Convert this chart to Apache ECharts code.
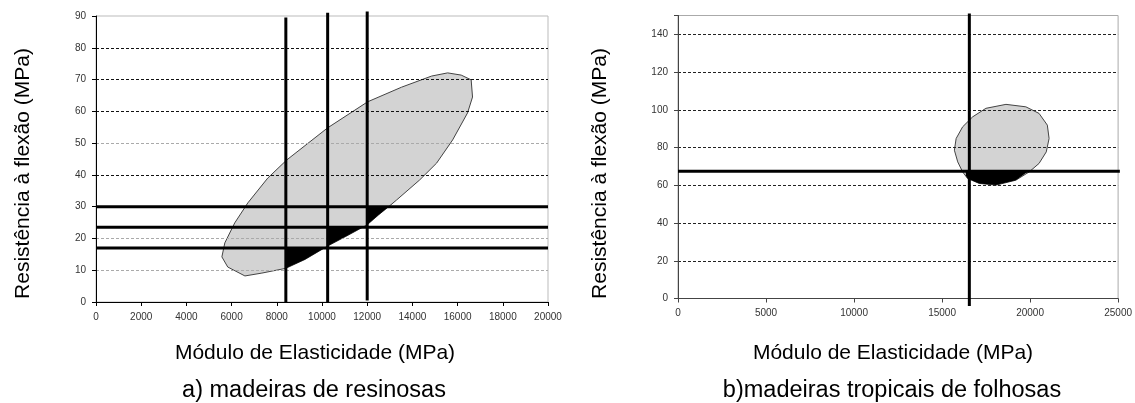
<!DOCTYPE html>
<html><head><meta charset="utf-8">
<script src="https://cdn.jsdelivr.net/npm/echarts@6/dist/echarts.min.js"></script>
<style>html,body{margin:0;padding:0;background:#fff}#c{width:1135px;height:403px}</style>
</head><body><div id="c"></div>
<script>
// ---- Chart a) madeiras de resinosas ----
const aXRange = [0, 20000, 2000];
const aYRange = [0, 90, 10];
// outline of the grey ellipse [MOE, MOR]
const aEllipse = [[8400,10.6],[9250,13.4],[10250,17.6],[11150,21.0],[12000,24.3],[12500,27.4],[13000,30.3],[13300,32.1],[14320,38.4],[15070,43.7],[15780,51.0],[16440,59.5],[16660,64.5],[16600,69.9],[16160,71.4],[15560,72.1],[14850,71.1],[13520,67.6],[12020,63.0],[10250,54.8],[8440,44.7],[7600,39.0],[6720,31.2],[6140,24.9],[5700,18.6],[5570,14.2],[5830,11.0],[6590,8.2],[7340,9.1]];
const aBlack1 = [[8400,17],[10110,17],[9250,13.4],[8400,10.6]];
const aBlack2 = [[10250,23.5],[11800,23.5],[11150,21.0],[10250,17.6]];
const aBlack3 = [[12000,30],[12950,30],[12500,27.4],[12000,24.3]];
// vertical limits: [x, yFrom, yTo]
const aVLines = [[8400,0,89.5],[10250,0,91],[12000,0.5,91.4]];
// horizontal limits: [y, xFrom, xTo]
const aHLines = [[30,0,20000],[23.5,0,20000],[17,0,20000]];

// ---- Chart b) madeiras tropicais de folhosas ----
const bXRange = [0, 25000, 5000];
const bYRange = [0, 150, 20];
const bEllipse = [[18630,102.9],[19760,101.6],[20510,98.1],[20980,91.9],[21080,84.8],[20920,77.7],[20510,71.6],[19950,67.1],[19190,62.7],[18060,60.1],[17110,61.0],[16450,63.6],[16170,67.1],[15890,72.4],[15700,78.6],[15800,84.8],[16170,91.0],[16740,96.3],[17490,100.8]];
const bBlack = [[16350,67.5],[19900,67.5],[19190,62.7],[18060,60.1],[17110,61.0],[16450,63.6],[16350,65]];
const bVLines = [[16550,-4,151]];
const bHLines = [[67.5,0,25100]];

const texts = {
  yName: 'Resistência à flexão (MPa)',
  xName: 'Módulo de Elasticidade (MPa)',
  aTitle: 'a) madeiras de resinosas',
  bTitle: 'b)madeiras tropicais de folhosas'
};

const FONT = '"Liberation Sans", Arial, sans-serif';

function poly(pts, idx, fill, stroke, z) {
  return {
    type: 'custom', xAxisIndex: idx, yAxisIndex: idx, z: z, silent: true, clip: false,
    data: pts,
    renderItem: function (params, api) {
      if (params.dataIndex !== 0) return null;
      return {
        type: 'polygon',
        shape: { points: pts.map(function (p) { return api.coord(p); }) },
        style: { fill: fill, stroke: stroke, lineWidth: stroke ? 1 : 0 }
      };
    }
  };
}
function seg(data, idx) {
  return {
    type: 'line', xAxisIndex: idx, yAxisIndex: idx, data: data, symbol: 'none',
    clip: false, silent: true, z: 5, lineStyle: { color: '#000', width: 3 }
  };
}

const series = [
  poly(aEllipse, 0, '#d3d3d3', '#444', -1),
  poly(aBlack1, 0, '#000', null, 3),
  poly(aBlack2, 0, '#000', null, 3),
  poly(aBlack3, 0, '#000', null, 3),
  poly(bEllipse, 1, '#d3d3d3', '#444', -1),
  poly(bBlack, 1, '#000', null, 3)
];
aVLines.forEach(function (v) { series.push(seg([[v[0], v[1]], [v[0], v[2]]], 0)); });
aHLines.forEach(function (h) { series.push(seg([[h[1], h[0]], [h[2], h[0]]], 0)); });
bVLines.forEach(function (v) { series.push(seg([[v[0], v[1]], [v[0], v[2]]], 1)); });
bHLines.forEach(function (h) { series.push(seg([[h[1], h[0]], [h[2], h[0]]], 1)); });

const lbl = { fontFamily: FONT, fontSize: 10, color: '#333', margin: 10,
  formatter: function (v) { return String(v); } };

const chart = echarts.init(document.getElementById('c'), null, { renderer: 'canvas' });
chart.setOption({
  animation: false,
  backgroundColor: '#fff',
  grid: [
    { left: 96, top: 16, width: 452, height: 286, show: true, borderColor: '#bbb', borderWidth: 1, backgroundColor: 'transparent' },
    { left: 678, top: 15.5, width: 441.5, height: 283, show: true, borderColor: '#aaa', borderWidth: 1, backgroundColor: 'transparent' }
  ],
  xAxis: [
    { type: 'value', gridIndex: 0, min: aXRange[0], max: aXRange[1], interval: aXRange[2],
      axisLine: { lineStyle: { color: '#000', width: 1 } },
      axisTick: { show: true, length: 4, lineStyle: { color: '#000' } },
      axisLabel: lbl, splitLine: { show: false } },
    { type: 'value', gridIndex: 1, min: bXRange[0], max: bXRange[1], interval: bXRange[2],
      axisLine: { lineStyle: { color: '#444', width: 1 } },
      axisTick: { show: true, length: 4, lineStyle: { color: '#444' } },
      axisLabel: lbl, splitLine: { show: false } }
  ],
  yAxis: [
    { type: 'value', gridIndex: 0, min: aYRange[0], max: aYRange[1], interval: aYRange[2],
      axisLine: { show: true, lineStyle: { color: '#000', width: 1 } },
      axisTick: { show: true, length: 4, lineStyle: { color: '#000' } },
      axisLabel: lbl,
      splitLine: { show: true, lineStyle: { type: [3, 2], width: 1,
        color: ['rgba(0,0,0,0)', '#aaa', '#aaa', '#111', '#111', '#aaa', '#111', '#111', '#111', 'rgba(0,0,0,0)'] } } },
    { type: 'value', gridIndex: 1, min: bYRange[0], max: bYRange[1], interval: bYRange[2],
      axisLine: { show: true, lineStyle: { color: '#444', width: 1 } },
      axisTick: { show: true, length: 4, lineStyle: { color: '#444' } },
      axisLabel: Object.assign({}, lbl, { formatter: function (v) { return v === 150 ? '' : String(v); } }),
      splitLine: { show: true, lineStyle: { type: [3, 2], width: 1,
        color: ['rgba(0,0,0,0)', '#222', '#222', '#222', '#222', '#222', '#222', '#222', 'rgba(0,0,0,0)'] } } }
  ],
  graphic: [
    { type: 'text', x: 23, y: 173.5, rotation: Math.PI / 2, style: { text: texts.yName, font: '21px ' + FONT, fill: '#000', textAlign: 'center', textVerticalAlign: 'middle' } },
    { type: 'text', x: 600, y: 173.5, rotation: Math.PI / 2, style: { text: texts.yName, font: '21px ' + FONT, fill: '#000', textAlign: 'center', textVerticalAlign: 'middle' } },
    { type: 'text', x: 315, y: 353, style: { text: texts.xName, font: '21px ' + FONT, fill: '#000', textAlign: 'center', textVerticalAlign: 'middle' } },
    { type: 'text', x: 893, y: 353, style: { text: texts.xName, font: '21px ' + FONT, fill: '#000', textAlign: 'center', textVerticalAlign: 'middle' } },
    { type: 'text', x: 314, y: 391, style: { text: texts.aTitle, font: '23.5px ' + FONT, fill: '#000', textAlign: 'center', textVerticalAlign: 'middle' } },
    { type: 'text', x: 892, y: 391, style: { text: texts.bTitle, font: '23.5px ' + FONT, fill: '#000', textAlign: 'center', textVerticalAlign: 'middle' } }
  ],
  series: series
});
</script>
</body></html>
